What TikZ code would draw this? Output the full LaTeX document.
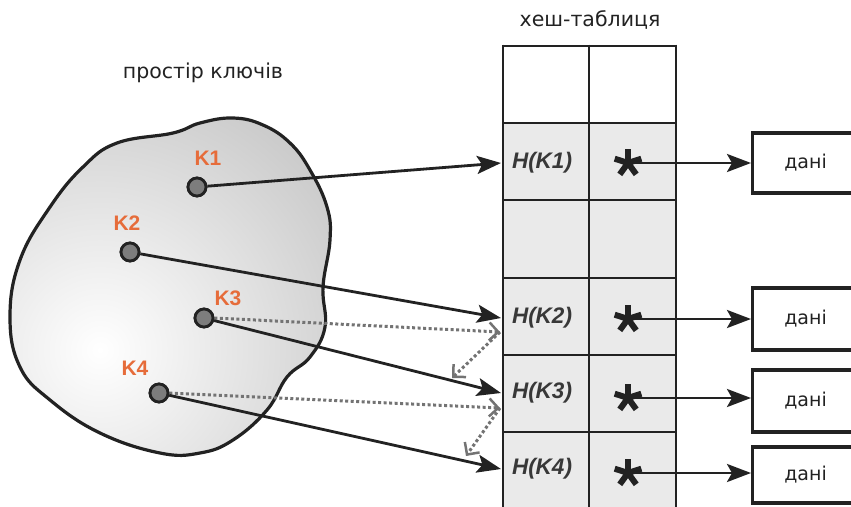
\documentclass[tikz,border=0pt]{standalone}
\usepackage{fontspec}
\setmainfont{Liberation Sans}
\newfontfamily\dvs{DejaVu Sans}
\usetikzlibrary{arrows.meta}
\definecolor{keyor}{RGB}{230,108,58}
\definecolor{ln}{RGB}{34,34,34}
\definecolor{cellc}{RGB}{234,234,234}
\definecolor{dotc}{RGB}{115,115,115}
\definecolor{keyfill}{RGB}{125,125,125}
\begin{document}
\begin{tikzpicture}[x=1pt,y=-1pt,
  title/.style={text=ln,font=\dvs\fontsize{20.5}{23}\selectfont,inner sep=0pt},
  hlbl/.style={text=ln!90,font=\bfseries\itshape\fontsize{22.5}{24}\selectfont,inner sep=0pt},
  keylbl/.style={text=keyor,font=\bfseries\fontsize{21}{23}\selectfont,inner sep=0pt},
  keydot/.style={circle,draw=ln,line width=2.8pt,fill=keyfill,minimum size=18pt,inner sep=0pt},
  databox/.style={draw=ln,line width=3.2pt,fill=white,minimum width=106pt,anchor=west,
    font=\dvs\fontsize{19}{21}\selectfont,text=ln,inner sep=0pt},
  arr/.style={draw=ln,line width=2.8pt,-{Stealth[length=24pt,width=18pt,inset=5pt]}},
  dotarr/.style={draw=dotc,line width=3pt,dash pattern=on 3pt off 2.5pt,
    -{Straight Barb[length=9pt,width=18pt,line width=2.5pt]}},
  astr/.pic={\foreach \a in {-90,-18,-162,54,126}
      \draw[ln,line width=6pt] (0,0) -- (\a:14);}
]
\useasboundingbox (0,0) rectangle (851,506);

% ---- key space blob ----
\begin{scope}
  \clip plot[smooth cycle,tension=0.7] coordinates {
    (117,143) (173,133) (200,123) (233,118) (263,125) (290,143) (310,170)
    (327,207) (330,240) (323,287) (325,327) (310,357) (287,377) (267,410)
    (233,440) (200,453) (160,453) (100,433) (50,400) (20,367) (10,317)
    (20,260) (50,207) (83,167)};
  \shade[inner color=white,outer color=black!38] (100,350) circle (520);
\end{scope}
\draw[ln,line width=3.2pt] plot[smooth cycle,tension=0.7] coordinates {
    (117,143) (173,133) (200,123) (233,118) (263,125) (290,143) (310,170)
    (327,207) (330,240) (323,287) (325,327) (310,357) (287,377) (267,410)
    (233,440) (200,453) (160,453) (100,433) (50,400) (20,367) (10,317)
    (20,260) (50,207) (83,167)};

\node[title] (ttlkeys) at (203,73) {простір ключів};
\node[title] (ttltab) at (590,20) {хеш-таблиця};

% ---- hash table ----
\fill[cellc] (503,123) rectangle (676,512);
\foreach \yy in {46,123,200,278,355,432}
  \draw[ln,line width=2.8pt] (503,\yy) -- (676,\yy);
\foreach \xx in {503,589,676}
  \draw[ln,line width=2.8pt] (\xx,44.6) -- (\xx,512);

\node[hlbl] (h1) at (542,163) {H(K1)};
\node[hlbl] (h2) at (542,318) {H(K2)};
\node[hlbl] (h3) at (542,393) {H(K3)};
\node[hlbl] (h4) at (542,469) {H(K4)};

\coordinate (t1) at (501,163);
\coordinate (t2) at (501,318);
\coordinate (t3) at (501,393);
\coordinate (t4) at (501,469);
\coordinate (c2) at (500,332);
\coordinate (c3) at (500,408);
\coordinate (e2) at (452,378);
\coordinate (e3) at (466,456);

% ---- keys ----
\node[keydot] (k1) at (197,187) {};
\node[keydot] (k2) at (130,252) {};
\node[keydot] (k3) at (204,318) {};
\node[keydot] (k4) at (159,393) {};
\node[keylbl] (l1) at (208,158) {K1};
\node[keylbl] (l2) at (127,223) {K2};
\node[keylbl] (l3) at (228,298) {K3};
\node[keylbl] (l4) at (135,368) {K4};

% dotted collision arrows
\draw[dotarr] (k3.east) -- (c2);
\draw[dotarr] (c2) -- (e2);
\draw[dotarr] (k4.east) -- (c3);
\draw[dotarr] (c3) -- (e3);

% solid arrows
\draw[arr] (k1) -- (t1);
\draw[arr] (k2) -- (t2);
\draw[arr] (k3) -- (t3);
\draw[arr] (k4) -- (t4);
\node[keydot] at (k1) {};
\node[keydot] at (k2) {};
\node[keydot] at (k3) {};
\node[keydot] at (k4) {};

% ---- pointers and data ----
\coordinate (s1) at (628,163);
\coordinate (s2) at (628,319);
\coordinate (s3) at (628,398);
\coordinate (s4) at (628,473);
\node[databox,minimum height=60pt] (d1) at (751,163) {дані};
\node[databox,minimum height=62pt] (d2) at (751,319) {дані};
\node[databox,minimum height=62pt] (d3) at (751,401) {дані};
\node[databox,minimum height=56pt] (d4) at (751,475) {дані};
\draw[arr] (s1) -- (s1 -| d1.west);
\draw[arr] (s2) -- (s2 -| d2.west);
\draw[arr] (s3) -- (s3 -| d3.west);
\draw[arr] (s4) -- (s4 -| d4.west);
\pic at (s1) {astr};
\pic at (s2) {astr};
\pic at (s3) {astr};
\pic at (s4) {astr};
\end{tikzpicture}
\end{document}
